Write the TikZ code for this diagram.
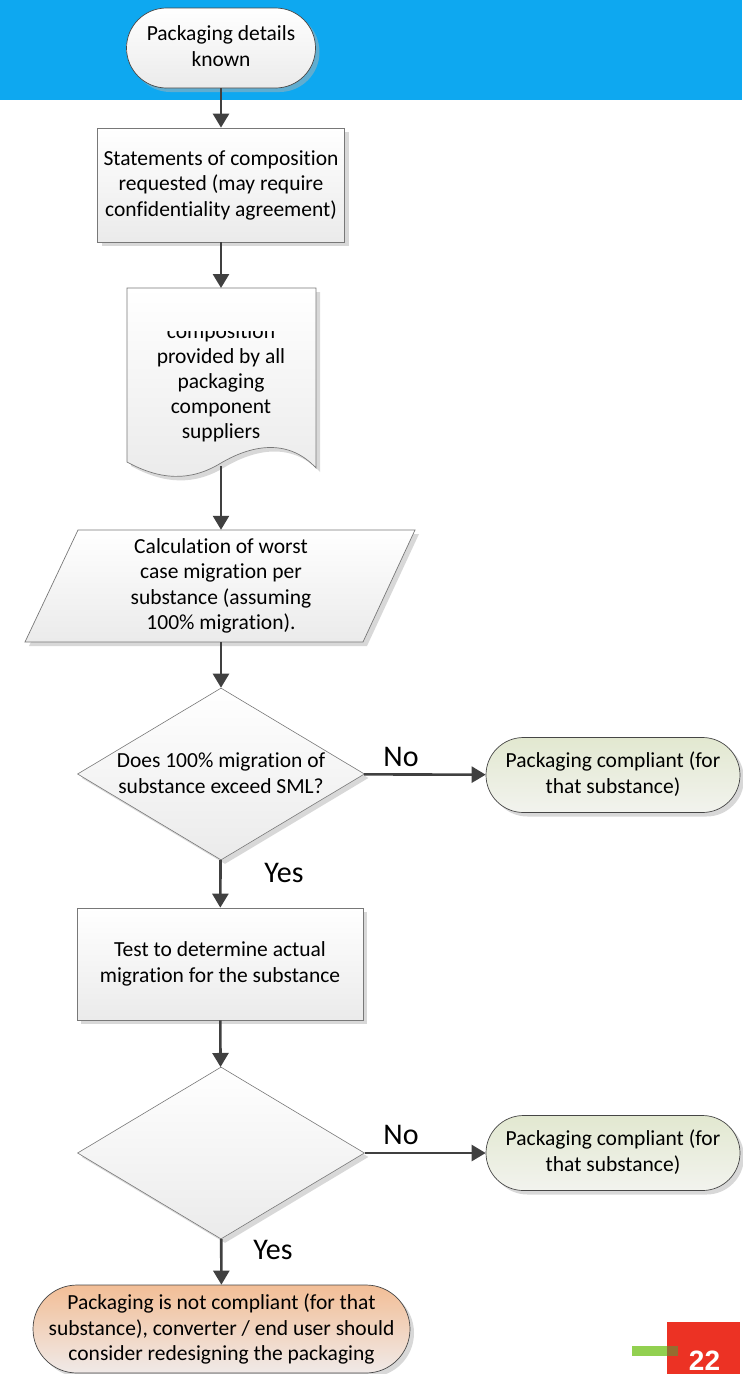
\documentclass[tikz,border=0pt]{standalone}
\usepackage{fontspec}
\setmainfont{Carlito}[Ligatures=NoCommon]
\newfontfamily\pagefont{Liberation Sans}
\usetikzlibrary{shapes.geometric,shapes.misc,arrows.meta,shadows}
\definecolor{bandblue}{RGB}{14,168,240}
\definecolor{arrowgray}{RGB}{64,64,64}
\definecolor{boxline}{RGB}{120,120,120}
\definecolor{termline}{RGB}{70,70,70}
\definecolor{greentop}{RGB}{226,232,208}
\definecolor{greenbot}{RGB}{242,243,238}
\definecolor{orangetop}{RGB}{242,190,150}
\definecolor{orangebot}{RGB}{240,234,232}
\definecolor{pagered}{RGB}{236,50,36}
\definecolor{pagegreen}{RGB}{146,208,80}
\tikzset{
  txt/.style={align=center, font=\fontsize{21.5}{25.5}\selectfont, inner sep=0pt},
  shad/.style={drop shadow={shadow xshift=4pt, shadow yshift=-4pt, fill=black!30, opacity=0.5}},
  procbox/.style={txt, shad, draw=boxline, line width=0.7pt, top color=white, bottom color=black!8},
  termbox/.style={shad, rounded rectangle, inner sep=0pt, draw=termline, line width=0.7pt, top color=white, bottom color=black!8},
  greenterm/.style={termbox, top color=greentop, bottom color=greenbot},
  orangeterm/.style={termbox, top color=orangetop, bottom color=orangebot},
  decision/.style={shad, diamond, inner sep=0pt, draw=boxline, line width=0.6pt, top color=white, bottom color=black!8, aspect=1.67, minimum width=287, minimum height=172},
  flow/.style={draw=arrowgray, line width=2.6pt, -{Triangle[length=14pt,width=16pt]}},
  lbl/.style={font=\fontsize{30}{32}\selectfont, inner sep=0pt}
}
\begin{document}
\begin{tikzpicture}[x=1pt,y=-1pt]
\useasboundingbox (0,0) rectangle (742,1374);
\fill[bandblue] (0,0) rectangle (742,100);

% start terminal
\node[termbox, minimum width=189, minimum height=80] (start) at (221,48) {};
\node[txt] (starttext) at (221,46) {Packaging details\\known};

% request box
\node[procbox, minimum width=247, minimum height=114] (req) at (221,185)
  {Statements of composition\\requested (may require\\confidentiality agreement)};

% document shape
\path[shad, draw=boxline, line width=0.7pt, top color=white, bottom color=black!8]
  (127,288) -- (316,288) -- (316,468)
  .. controls (290,440) and (255,443) .. (221,463)
  .. controls (190,482) and (160,480) .. (127,462) -- cycle;
\coordinate (doctop) at (221,288);
\coordinate (docbot) at (221,466);
\begin{scope}
  \clip (127,331) rectangle (316,470);
  \node[txt, font=\fontsize{21.5}{25}\selectfont] (doctext) at (221,370) {Statements of\\composition\\provided by all\\packaging\\component\\suppliers};
\end{scope}

% parallelogram
\path[shad, draw=boxline, line width=0.7pt, top color=white, bottom color=black!8]
  (78,530) -- (415,530) -- (363,642) -- (25,642) -- cycle;
\node[txt, minimum height=112] (calc) at (221,586)
  {Calculation of worst\\case migration per\\substance (assuming\\100\% migration).};

% decision 1
\node[decision] (d1) at (221,774) {};
\node[txt] (d1text) at (221,773) {Does 100\% migration of\\substance exceed SML?};
\node[greenterm, minimum width=254, minimum height=75] (ok1) at (613,775) {};
\node[txt] (ok1text) at (613,774) {Packaging compliant (for\\that substance)};

% test box
\node[procbox, minimum width=286, minimum height=112] (test) at (220,964)
  {Test to determine actual\\migration for the substance};

% decision 2
\node[decision] (d2) at (221,1153) {};
\node[greenterm, minimum width=254, minimum height=75] (ok2) at (613,1153) {};
\node[txt] (ok2text) at (613,1152) {Packaging compliant (for\\that substance)};

% not compliant terminal
\node[orangeterm, minimum width=377, minimum height=88] (notok) at (221.5,1329) {};
\node[txt] (notoktext) at (221.5,1329)
  {Packaging is not compliant (for that\\substance), converter / end user should\\consider redesigning the packaging};

% connectors
\draw[flow] (start) -- (req);
\draw[flow] (req) -- (doctop);
\draw[flow] (docbot) -- (calc.north);
\draw[flow] (calc.south) -- (d1);
\draw[flow] (d1) -- (ok1);
\draw[flow] (d1) -- (test);
\draw[flow] (test) -- (d2);
\draw[flow] (d2) -- (ok2);
\draw[flow] (d2) -- (notok);
\node[lbl] (no1) at (401,757) {No};
\node[lbl] (yes1) at (284,873) {Yes};
\node[lbl] (no2) at (401,1135) {No};
\node[lbl] (yes2) at (273,1250) {Yes};

% page number mark
\fill[pagered] (667,1322) rectangle (740,1374);
\fill[pagegreen] (632,1346) rectangle (667,1356);
\fill[pagegreen!55!pagered!80!black] (667,1346) rectangle (678,1356);
\node[font=\fontsize{28}{30}\selectfont\pagefont\bfseries, text=white, inner sep=0pt, anchor=base] (pnum) at (704.5,1370) {22};
\end{tikzpicture}
\end{document}
